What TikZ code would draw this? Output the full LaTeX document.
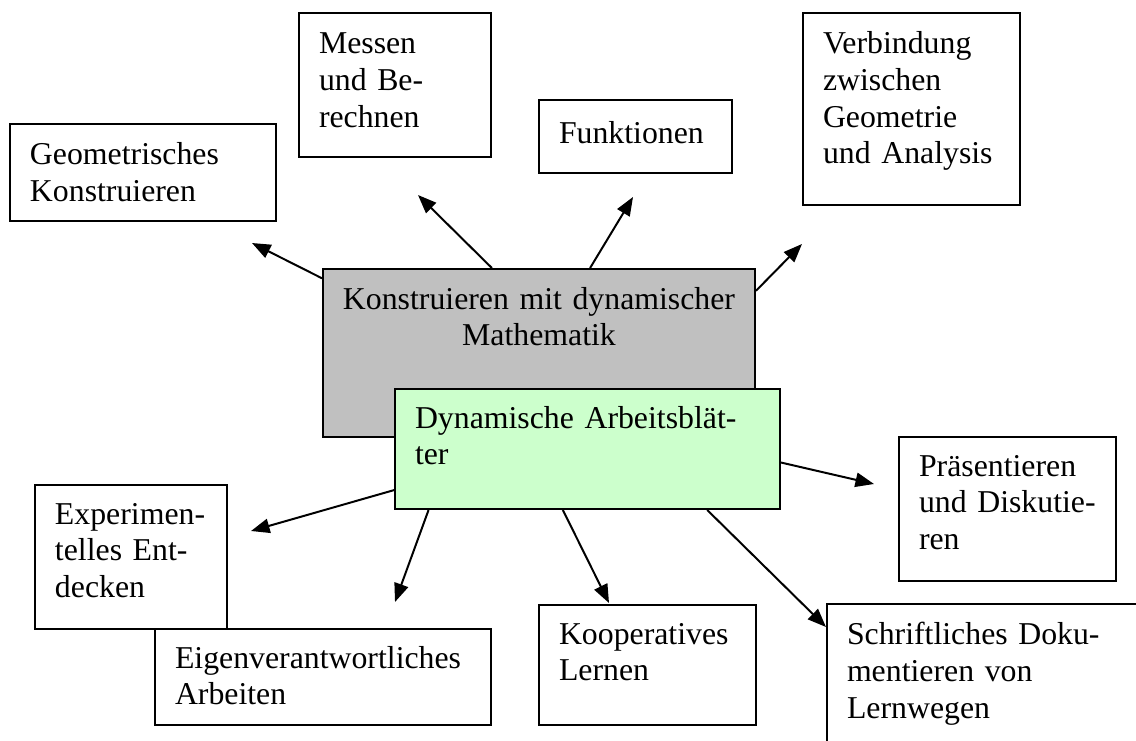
\documentclass[tikz,border=0pt]{standalone}
\usepackage{fontspec}
\setmainfont{Liberation Serif}
\usepackage{tikz}
\usetikzlibrary{arrows.meta}
\definecolor{kgray}{RGB}{192,192,192}
\definecolor{lgreen}{RGB}{204,255,204}

\begin{document}
\begin{tikzpicture}[x=0.3774pt, y=-0.3774pt,
        box/.style={draw, line width=0.75pt, anchor=north west, align=left,
            inner xsep=7.55pt, inner ysep=0pt, font=\fontsize{12}{13.8}\selectfont},
        arr/.style={-{Triangle[length=7pt,width=5.4pt]}, line width=0.75pt}]
    \useasboundingbox (0,0) rectangle (1136,740);

    % --- Upper topics ---
    \node[box, text width=85.29pt, text height=15.47pt, text depth=21.13pt] (geo) at (9,123) {Geometrisches\\Konstruieren};
    \node[box, text width=57.36pt, text height=15.47pt, text depth=38.87pt] (mess) at (298,12) {Messen\\und Be-\\rechnen};
    \node[box, text width=57.74pt, text height=16.23pt, text depth=11.32pt] (fkt) at (538,99) {Funktionen};
    \node[box, text width=66.80pt, text height=15.47pt, text depth=56.99pt] (verb) at (802,12) {Verbindung\\zwischen\\Geometrie\\und Analysis};

    % --- Centre ---
    \node[box, fill=kgray, align=center, inner xsep=2pt, text width=159.04pt, text height=15.10pt, text depth=48.31pt] (kmath) at (322,268) {Konstruieren mit dynamischer\\Mathematik};
    \node[box, fill=lgreen, text width=130.20pt, text height=14.72pt, text depth=30.57pt] (dynab) at (394,388) {Dynamische Arbeitsblät-\\ter};

    % --- Lower topics ---
    \node[box, text width=66.80pt, text height=14.72pt, text depth=39.63pt] (praes) at (898,436) {Präsentieren\\und Diskutie-\\ren};
    \node[box, text width=57.36pt, text height=14.72pt, text depth=39.63pt] (exper) at (34,484) {Experimen-\\telles Ent-\\decken};
    \node[box, text width=111.70pt, text height=14.72pt, text depth=21.51pt] (eigen) at (154,628) {Eigenverantwortliches\\Arbeiten};
    \node[box, text width=66.80pt, text height=14.72pt, text depth=30.57pt] (koop) at (538,604) {Kooperatives\\Lernen};
    \node[box, text width=107.20pt, text height=15.47pt, text depth=43.78pt] (schrift) at (826,603) {Schriftliches Doku-\\mentieren von\\Lernwegen};

    % arrow tips
    \coordinate (tgeo) at (252,243);
    \coordinate (tmess) at (418,195);
    \coordinate (tfkt) at (633,197);
    \coordinate (tverb) at (802,244);
    \coordinate (tpraes) at (874,484);
    \coordinate (tschrift) at (826,627);
    \coordinate (tkoop) at (609,603);
    \coordinate (teigen) at (395,602);
    \coordinate (texper) at (251,531);

    % Arrows
    \draw[arr] (kmath.161.3) -- (tgeo);
    \draw[arr] (kmath.119.7) -- (tmess);
    \draw[arr] (kmath.59.7) -- (tfkt);
    \draw[arr] (kmath.16) -- (tverb);
    \draw[arr] (dynab.356.7) -- (tpraes);
    \draw[arr] (dynab.333.3) -- (tschrift);
    \draw[arr] (dynab.248.6) -- (tkoop);
    \draw[arr] (dynab.201.2) -- (teigen);
    \draw[arr] (dynab.192.6) -- (texper);
\end{tikzpicture}
\end{document}
